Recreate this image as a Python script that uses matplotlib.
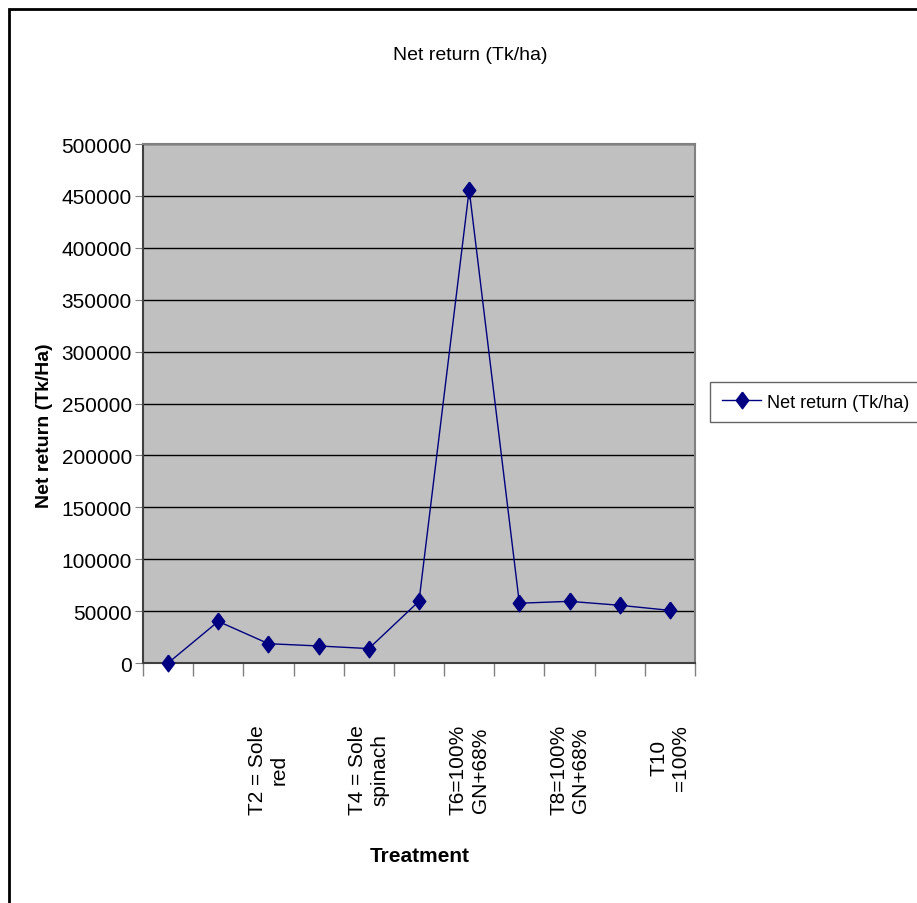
import matplotlib
matplotlib.use("Agg")
import matplotlib.pyplot as plt
from matplotlib.patches import Rectangle

# categories (only every other label is printed in the original)
labels = ["", "", "T2 = Sole\nred", "", "T4 = Sole\nspinach", "",
          "T6=100%\nGN+68%", "", "T8=100%\nGN+68%", "", "T10\n=100%"]
net_return = [0, 40100, 18600, 16400, 13900, 59500, 456000,
              57600, 59400, 55600, 50700]
yticks = [0, 50000, 100000, 150000, 200000, 250000,
          300000, 350000, 400000, 450000, 500000]

plt.rcParams["font.family"] = ["Liberation Sans", "DejaVu Sans"]
plt.rcParams["font.size"] = 14

W, H = 917, 904
fig = plt.figure(figsize=(W / 100, H / 100), dpi=100)

# outer chart border (only top and left visible)
fig.patches.append(Rectangle((8.5 / W, -0.1), 1.2, (H - 9.5) / H + 0.1,
                             transform=fig.transFigure, fill=False,
                             edgecolor="black", linewidth=2))

# excel-like diamond, a bit taller than wide
diamond = [(0, 1), (0.75, 0), (0, -1), (-0.75, 0), (0, 1)]

ax = fig.add_axes([143 / W, 1 - 664 / H, 552 / W, 519 / H])
ax.set_facecolor("#c0c0c0")
x = list(range(len(net_return)))
ax.plot(x, net_return, color="#000080", linewidth=1, marker=diamond,
        markersize=12, markerfacecolor="#000080", markeredgecolor="#000080",
        label="Net return (Tk/ha)", clip_on=False, zorder=3)

ax.set_xlim(-0.5, len(net_return) - 0.5)
ax.set_ylim(0, 500000)
ax.set_yticks(yticks)
ax.set_yticklabels([str(v) for v in yticks], fontsize=15)
ax.yaxis.grid(True, color="black", linewidth=1)
ax.set_axisbelow(True)

# ticks sit between categories, labels under the categories
ax.set_xticks([i - 0.5 for i in range(len(net_return) + 1)])
ax.set_xticklabels([])
ax.set_xticks(x, minor=True)
ax.set_xticklabels(labels, minor=True, rotation=90, ha="center", va="top",
                   multialignment="center", fontsize=15)
ax.tick_params(axis="x", which="major", direction="out", length=9,
               color="#808080", width=1)
ax.tick_params(axis="x", which="minor", length=0, pad=44)
ax.tick_params(axis="y", direction="out", length=6, color="#808080", pad=2)

for s in ax.spines.values():
    s.set_color("#808080")
    s.set_linewidth(1.5)
ax.spines["left"].set_color("#404040")
ax.spines["bottom"].set_color("#404040")

fig.text(470 / W, 1 - 55 / H, "Net return (Tk/ha)", ha="center", va="center")
fig.text(45 / W, 1 - 426 / H, "Net return (Tk/Ha)", rotation=90,
         ha="center", va="center", fontweight="bold")
fig.text(420 / W, 1 - 857 / H, "Treatment", ha="center", va="center",
         fontweight="bold", fontsize=15)

leg = fig.legend(loc="upper left", bbox_to_anchor=(710 / W, 1 - 383 / H),
                 frameon=True, fancybox=False, fontsize=13, handlelength=2.2,
                 borderpad=0.65, handletextpad=0.3, borderaxespad=0)
leg.get_frame().set_edgecolor("#404040")
leg.get_frame().set_linewidth(1)

fig.savefig("out.png", dpi=100)
